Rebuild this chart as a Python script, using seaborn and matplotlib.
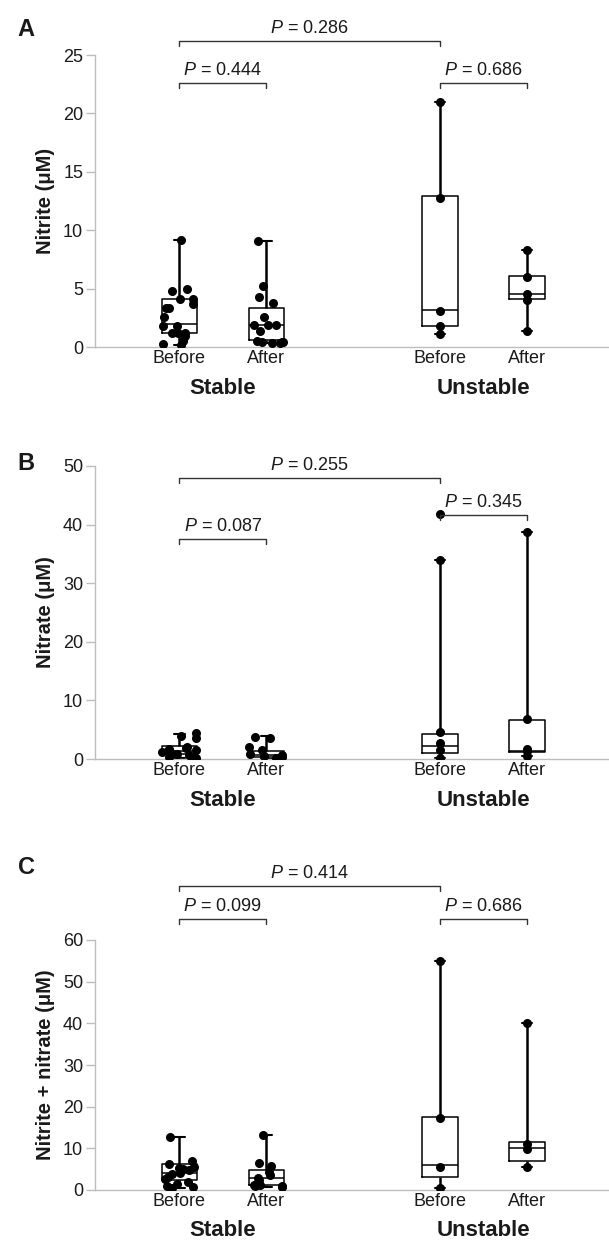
import numpy as np
import pandas as pd
import matplotlib
matplotlib.use("Agg")
import matplotlib.pyplot as plt
import seaborn as sns

sns.set_theme(style="white")
plt.rcParams['font.family'] = ['Liberation Sans', 'DejaVu Sans']
plt.rcParams['mathtext.fontset'] = 'custom'
plt.rcParams['mathtext.it'] = 'Liberation Sans:italic'
plt.rcParams['mathtext.rm'] = 'Liberation Sans'

# ---------------- data ----------------
groups = ["Stable", "Unstable"]
times = ["Before", "After", "Before", "After"]
panel_letters = ["A", "B", "C"]
ylabels = ["Nitrite (μM)", "Nitrate (μM)", "Nitrite + nitrate (μM)"]
yticks_A = [0, 5, 10, 15, 20, 25]
yticks_B = [0, 10, 20, 30, 40, 50]
yticks_C = [0, 10, 20, 30, 40, 50, 60]

# individual measurements (stable before, stable after, unstable before, unstable after)
nitrite_sb = [9.15, 5.0, 4.8, 4.15, 4.15, 3.67, 3.33, 3.33, 2.59, 1.82, 1.77, 1.19, 1.19, 1.17, 0.97, 0.54, 0.26, 0.2]
nitrite_sa = [9.07, 5.26, 4.32, 3.75, 2.59, 1.9, 1.88, 1.85, 1.39, 0.5, 0.45, 0.42, 0.4, 0.35, 0.3]
nitrite_ub = [20.96, 12.74, 3.05, 1.82, 1.11]
nitrite_ua = [8.33, 6.03, 4.58, 4.04, 1.39]

nitrate_sb = [4.5, 4.0, 3.6, 2.0, 1.8, 1.7, 1.5, 1.2, 1.0, 0.8, 0.6, 0.4, 0.2, 0.1]
nitrate_sa = [3.8, 3.5, 2.0, 1.5, 0.8, 0.6, 0.5, 0.4, 0.2]
nitrate_ub = [41.8, 34.0, 4.6, 2.73, 1.54, 0.2]
nitrate_ua = [38.8, 6.77, 1.7, 1.3, 0.5]

total_sb = [12.8, 7.0, 6.2, 5.6, 5.3, 5.0, 4.8, 4.2, 3.8, 3.2, 2.6, 2.0, 1.5, 1.0, 0.8, 0.6]
total_sa = [13.2, 6.5, 5.8, 4.3, 3.5, 3.0, 2.5, 1.9, 1.3, 1.2, 1.0, 0.9, 0.8]
total_ub = [55.0, 17.2, 5.5, 0.5]
total_ua = [40.0, 11.0, 9.8, 5.6]

# box summaries: [whisker low, Q1, median, Q3, whisker high]
nitrite_box = [[0.2, 1.19, 1.99, 4.1, 9.15], [0.3, 0.6, 1.9, 3.33, 9.07],
               [1.11, 1.82, 3.18, 12.9, 20.96], [1.39, 4.15, 4.58, 6.08, 8.33]]
nitrate_box = [[0.1, 0.8, 1.4, 2.2, 4.3], [0.0, 0.3, 0.6, 1.3, 3.9],
               [0.2, 1.0, 2.2, 4.3, 34.0], [0.5, 1.2, 1.35, 6.6, 38.8]]
total_box = [[0.6, 2.5, 4.2, 6.2, 12.8], [0.8, 1.3, 3.0, 4.7, 13.2],
             [0.5, 3.2, 6.0, 17.5, 55.0], [5.6, 7.0, 10.0, 11.5, 40.0]]

# P values: (label, left group index, right group index, height)
nitrite_p = [("0.286", 0, 2, 26.2), ("0.444", 0, 1, 22.6), ("0.686", 2, 3, 22.6)]
nitrate_p = [("0.255", 0, 2, 48.0), ("0.087", 0, 1, 37.5), ("0.345", 2, 3, 41.6)]
total_p = [("0.414", 0, 2, 73.0), ("0.099", 0, 1, 65.0), ("0.686", 2, 3, 65.0)]

panels = [
    (nitrite_sb, nitrite_sa, nitrite_ub, nitrite_ua, nitrite_box, nitrite_p, yticks_A),
    (nitrate_sb, nitrate_sa, nitrate_ub, nitrate_ua, nitrate_box, nitrate_p, yticks_B),
    (total_sb, total_sa, total_ub, total_ua, total_box, total_p, yticks_C),
]

# ---------------- layout ----------------
W, H = 609, 1243
fig = plt.figure(figsize=(W / 100, H / 100), dpi=100)
positions = [0, 1, 3, 4]
axes_px = [(95, 609, 55, 347), (95, 609, 466, 759), (95, 609, 940, 1190)]
letter_px = [(26, 30), (26, 463), (26, 868)]
GRAY = "#bdbdbd"
TXT = "#1a1a1a"

for k, (sb, sa, ub, ua, box5, pvals, yt) in enumerate(panels):
    l, r, t, b = axes_px[k]
    ax = fig.add_axes([l / W, 1 - b / H, (r - l) / W, (b - t) / H])

    box_df = pd.DataFrame({
        "pos": np.repeat(positions, 5),
        "val": np.concatenate(box5),
    })
    sns.boxplot(data=box_df, x="pos", y="val", native_scale=True, whis=(0, 100),
                width=0.41, fill=False, color="black", linecolor="black",
                linewidth=1.1, showfliers=False, ax=ax, capwidths=0.12,
                whiskerprops={"linewidth": 1.8}, capprops={"linewidth": 1.5})

    stab_df = pd.DataFrame({
        "pos": [positions[0]] * len(sb) + [positions[1]] * len(sa),
        "val": list(sb) + list(sa),
    })
    unst_df = pd.DataFrame({
        "pos": [positions[2]] * len(ub) + [positions[3]] * len(ua),
        "val": list(ub) + list(ua),
    })
    np.random.seed(3 + k)
    sns.stripplot(data=stab_df, x="pos", y="val", native_scale=True, jitter=0.2,
                  color="black", size=6.5, ax=ax, zorder=4)
    sns.stripplot(data=unst_df, x="pos", y="val", native_scale=True, jitter=False,
                  color="black", size=6.5, ax=ax, zorder=4)

    ymax = yt[-1]
    ax.set_ylim(0, ymax)
    ax.set_xlim(-0.97, 4.94)
    ax.set_yticks(yt)
    ax.set_yticklabels([str(v) for v in yt], fontsize=13, color=TXT)
    ax.set_xticks(positions)
    ax.set_xticklabels(times, fontsize=13, color=TXT)
    ax.tick_params(axis="x", length=0, pad=2)
    ax.tick_params(axis="y", length=6.5, color=GRAY, width=1, direction="out", pad=2, left=True)
    for s in ["top", "right"]:
        ax.spines[s].set_visible(False)
    for s in ["left", "bottom"]:
        ax.spines[s].set_color(GRAY)
        ax.spines[s].set_linewidth(1)
    ax.set_xlabel("")
    ax.set_ylabel(ylabels[k], fontsize=14.5, fontweight="bold", color=TXT, labelpad=6)

    # group labels (41 px below the axis line)
    hpx = b - t
    for gi, gx in enumerate([0.5, 3.5]):
        ax.text(gx, -41 / hpx, groups[gi], transform=ax.get_xaxis_transform(),
                ha="center", va="center", fontsize=16, fontweight="bold", color=TXT)

    # panel letter
    lx, ly = letter_px[k]
    fig.text(lx / W, 1 - ly / H, panel_letters[k], ha="center", va="center",
             fontsize=17, fontweight="bold", color=TXT)

    # P-value brackets
    tick = 5 * ymax / hpx
    for lab, i, j, h in pvals:
        x1, x2 = positions[i], positions[j]
        ax.plot([x1, x1, x2, x2], [h - tick, h, h, h - tick], color="#333333", lw=1,
                clip_on=False, zorder=5)
        ax.text((x1 + x2) / 2, h + 4 * ymax / hpx, r"$P$ = " + lab, ha="center", va="bottom",
                fontsize=13, color=TXT, clip_on=False)

fig.savefig("out.png", dpi=100)
